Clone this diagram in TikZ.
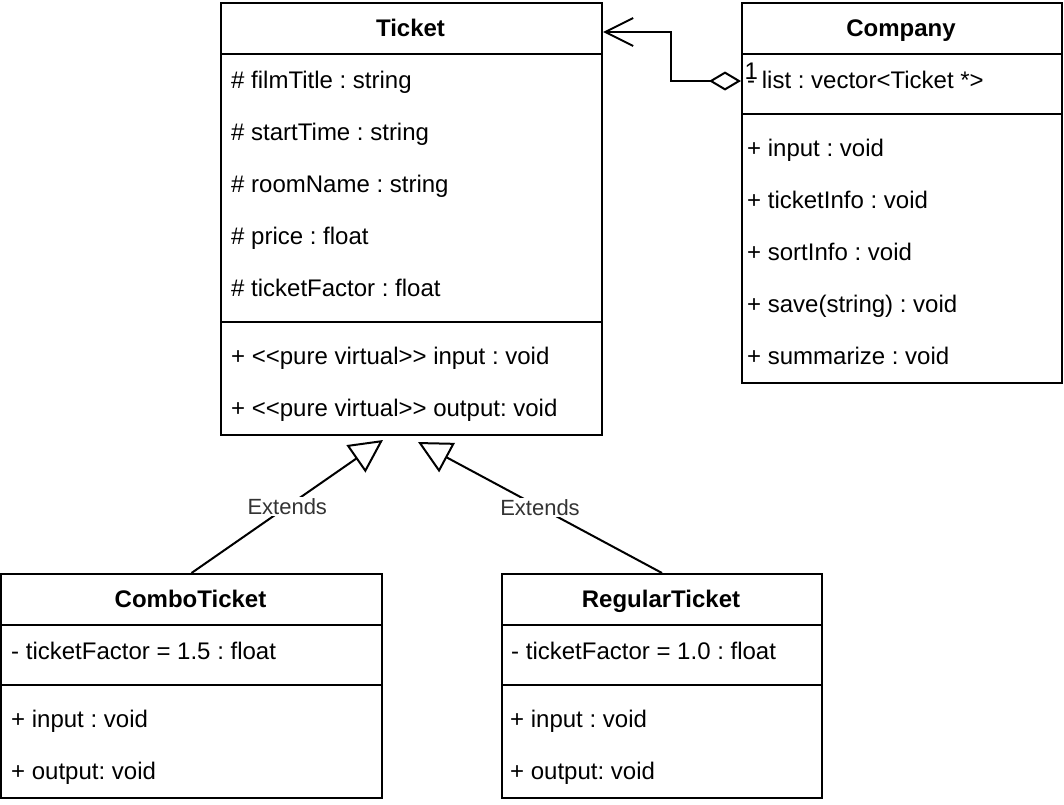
\documentclass[tikz,border=0pt]{standalone}
\usepackage{fontspec}
\setmainfont{Liberation Sans}
\usetikzlibrary{arrows.meta}
\frenchspacing

\tikzset{
  classbox/.style={draw, line width=2pt, anchor=north west, inner sep=0pt},
  rule/.style={line width=2pt},
  classname/.style={inner sep=0pt, text height=21.7pt, text depth=5.1pt,
    font=\fontsize{24}{28}\selectfont\bfseries},
  member/.style={anchor=west, inner sep=0pt, text height=21.7pt, text depth=5.1pt,
    font=\fontsize{24}{28}\selectfont},
  rel/.style={line width=2pt},
  relabel/.style={fill=white, inner sep=1pt, text=black!80, font=\fontsize{22}{26}\selectfont},
}

\begin{document}
\begin{tikzpicture}[x=1pt, y=-1pt]
\useasboundingbox (0,0) rectangle (1064,804);

\def\rh{52}; % row height

% Ticket
\def\xt{220};
\node[classbox, minimum width=381pt, minimum height=432pt] (ticket) at (\xt, 2) {};
\node[classname] (ticketname) at (410.5, 28) {Ticket};
\draw[rule] (\xt, 54) -- (601, 54);
\draw[rule] (\xt, 322) -- (601, 322);
\foreach \m [count=\i from 0] in {\# filmTitle : string, \# startTime : string,
    \# roomName : string, \# price : float, \# ticketFactor : float}
  \node[member] (tattr\i) at (\xt+11, 80+\rh*\i) {\m};
\foreach \m [count=\i from 0] in {+ <{}<pure virtual>{}> input : void,
    + <{}<pure virtual>{}> output: void}
  \node[member] (tmeth\i) at (\xt+11, 356+\rh*\i) {\m};

% Company
\def\xc{741};
\node[classbox, minimum width=320pt, minimum height=380pt] (company) at (\xc, 2) {};
\node[classname] (companyname) at (901, 28) {Company};
\draw[rule] (\xc, 54) -- (1061, 54);
\draw[rule] (\xc, 114) -- (1061, 114);
\node[member] (clist) at (\xc+6, 80) {- list : vector<Ticket *>};
\foreach \m [count=\i from 0] in {+ input : void, + ticketInfo : void,
    + sortInfo : void, + save(string) : void, + summarize : void}
  \node[member] (cmeth\i) at (\xc+6, 148+\rh*\i) {\m};

% ComboTicket
\def\xa{0};
\node[classbox, minimum width=381pt, minimum height=224pt] (combo) at (\xa, 573) {};
\node[classname] (comboname) at (190.5, 599) {ComboTicket};
\draw[rule] (\xa, 625) -- (381, 625);
\draw[rule] (\xa, 685) -- (381, 685);
\node[member] (aattr) at (\xa+11, 651) {- ticketFactor = 1.5 : float};
\node[member] (ameth0) at (\xa+11, 719) {+ input : void};
\node[member] (ameth1) at (\xa+11, 771) {+ output: void};

% RegularTicket
\def\xb{501};
\node[classbox, minimum width=320pt, minimum height=224pt] (regular) at (\xb, 573) {};
\node[classname] (regularname) at (661, 599) {RegularTicket};
\draw[rule] (\xb, 625) -- (821, 625);
\draw[rule] (\xb, 685) -- (821, 685);
\node[member] (battr) at (\xb+10, 651) {- ticketFactor = 1.0 : float};
\node[member] (bmeth0) at (\xb+9, 719) {+ input : void};
\node[member] (bmeth1) at (\xb+9, 771) {+ output: void};

% aggregation
\coordinate (aggsrc) at (\xc, 81);
\coordinate (aggtgt) at (603, 32);
\draw[rel, {Diamond[open, length=32pt, width=19pt]}-{Straight Barb[length=28pt, width=28pt]}]
  (aggsrc) -- ++(-70, 0) |- (aggtgt);
\node[anchor=base west, inner sep=0pt, font=\fontsize{24}{28}\selectfont] (mult) at (744.5, 79) {1};

% generalisation
\coordinate (extl) at (383, 440);
\coordinate (extr) at (418, 442);
\draw[rel, -{Triangle[open, length=33pt, width=33pt]}]
  (combo.north) -- node[relabel] (extlabl) {Extends} (extl);
\draw[rel, -{Triangle[open, length=33pt, width=33pt]}]
  (regular.north) -- node[relabel] (extlabr) {Extends} (extr);

\end{tikzpicture}
\end{document}
